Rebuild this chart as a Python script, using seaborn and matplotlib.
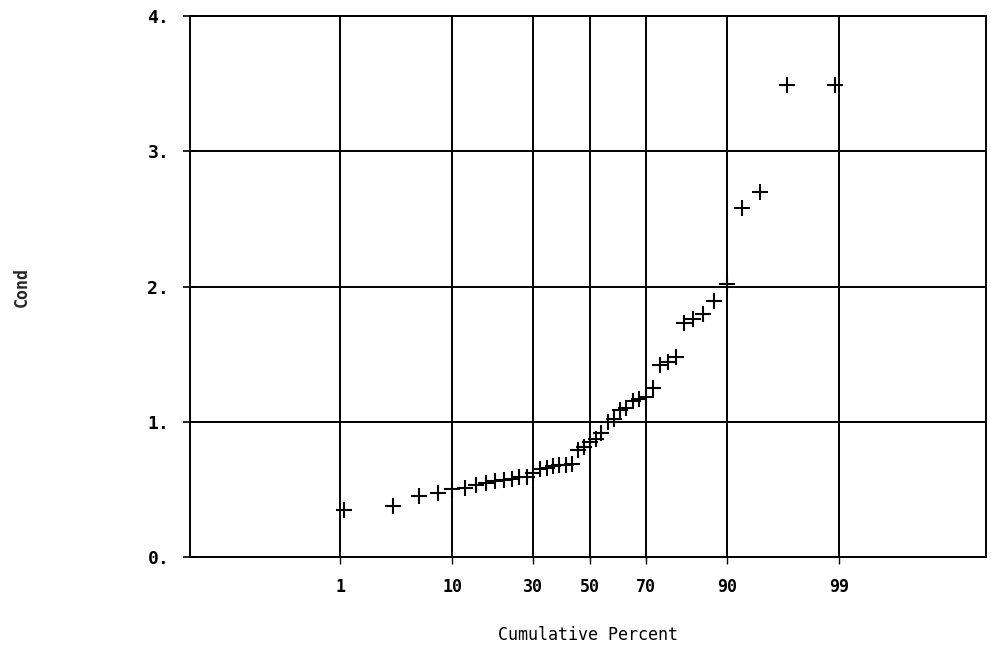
import numpy as np
import pandas as pd
import seaborn as sns
import matplotlib
matplotlib.use("Agg")
import matplotlib.pyplot as plt
from statistics import NormalDist

cum_pct = [1.1, 3.3, 5.6, 7.8, 10.0, 12.2, 14.4, 16.7, 18.9, 21.1,
           23.3, 25.6, 27.8, 30.0, 32.2, 34.4, 36.7, 38.9, 41.1, 43.3,
           45.6, 47.8, 50.0, 52.2, 54.4, 56.7, 58.9, 61.1, 63.3, 65.6,
           67.8, 70.0, 72.2, 74.4, 76.7, 78.9, 81.1, 83.3, 85.6, 87.8,
           90.0, 92.2, 94.4, 96.7, 98.9]
cond = [0.35, 0.38, 0.45, 0.47, 0.50, 0.51, 0.53, 0.55, 0.56, 0.57,
        0.58, 0.59, 0.59, 0.62, 0.65, 0.66, 0.67, 0.68, 0.68, 0.69,
        0.79, 0.81, 0.85, 0.87, 0.92, 1.00, 1.02, 1.09, 1.10, 1.15,
        1.17, 1.18, 1.25, 1.42, 1.44, 1.48, 1.73, 1.76, 1.80, 1.89,
        2.02, 2.58, 2.70, 3.49, 3.49]

x_ticks = [1, 10, 30, 50, 70, 90, 99]
y_ticks = [0, 1, 2, 3, 4]

nd = NormalDist()
_inv = np.vectorize(lambda v: nd.inv_cdf(v / 100.0), otypes=[float])
_cdf = np.vectorize(lambda v: nd.cdf(v) * 100.0, otypes=[float])


def pct_to_z(p):
    p = np.clip(np.asarray(p, dtype=float), 1e-6, 100 - 1e-6)
    return _inv(p)


def z_to_pct(z):
    return _cdf(np.asarray(z, dtype=float))


df = pd.DataFrame({"pct": cum_pct, "cond": cond})

sns.set_style("white")
plt.rcParams["font.family"] = ["DejaVu Sans Mono"]

fig = plt.figure(figsize=(9.91, 6.52), dpi=100)
ax = fig.add_axes([190 / 991, 95 / 652, 796 / 991, 541 / 652])
ax.set_xscale("function", functions=(pct_to_z, z_to_pct))

for t in x_ticks:
    ax.axvline(t, color="black", lw=1.4, zorder=1)
for t in y_ticks[1:-1]:
    ax.axhline(t, color="black", lw=1.4, zorder=1)

sns.scatterplot(data=df, x="pct", y="cond", marker="+", color="black",
                s=140, linewidth=1.5, ax=ax, zorder=3)

ax.set_xlim(float(z_to_pct(-3.73)), float(z_to_pct(3.70)))
ax.set_ylim(0, 4)
ax.set_xticks(x_ticks)
ax.set_xticklabels([str(t) for t in x_ticks])
ax.set_yticks(y_ticks)
ax.set_yticklabels([f"{t}." for t in y_ticks])
ax.minorticks_off()
ax.tick_params(axis="x", bottom=True, direction="out", length=5, width=1,
               pad=10, labelsize=12, colors="black")
ax.tick_params(axis="y", left=True, direction="inout", length=10, width=1.2,
               pad=10, labelsize=13, colors="black")
for lab in ax.get_xticklabels() + ax.get_yticklabels():
    lab.set_fontweight("bold")
for sp in ax.spines.values():
    sp.set_color("black")
    sp.set_linewidth(1.4)

ax.set_xlabel("Cumulative Percent", fontsize=12, labelpad=22, color="black")
ax.set_ylabel("")
fig.text(22 / 991, 1 - 287 / 652, "Cond", rotation=90, fontsize=12,
         fontweight="bold", ha="center", va="center")

plt.savefig("out.png", dpi=100)
plt.close()
